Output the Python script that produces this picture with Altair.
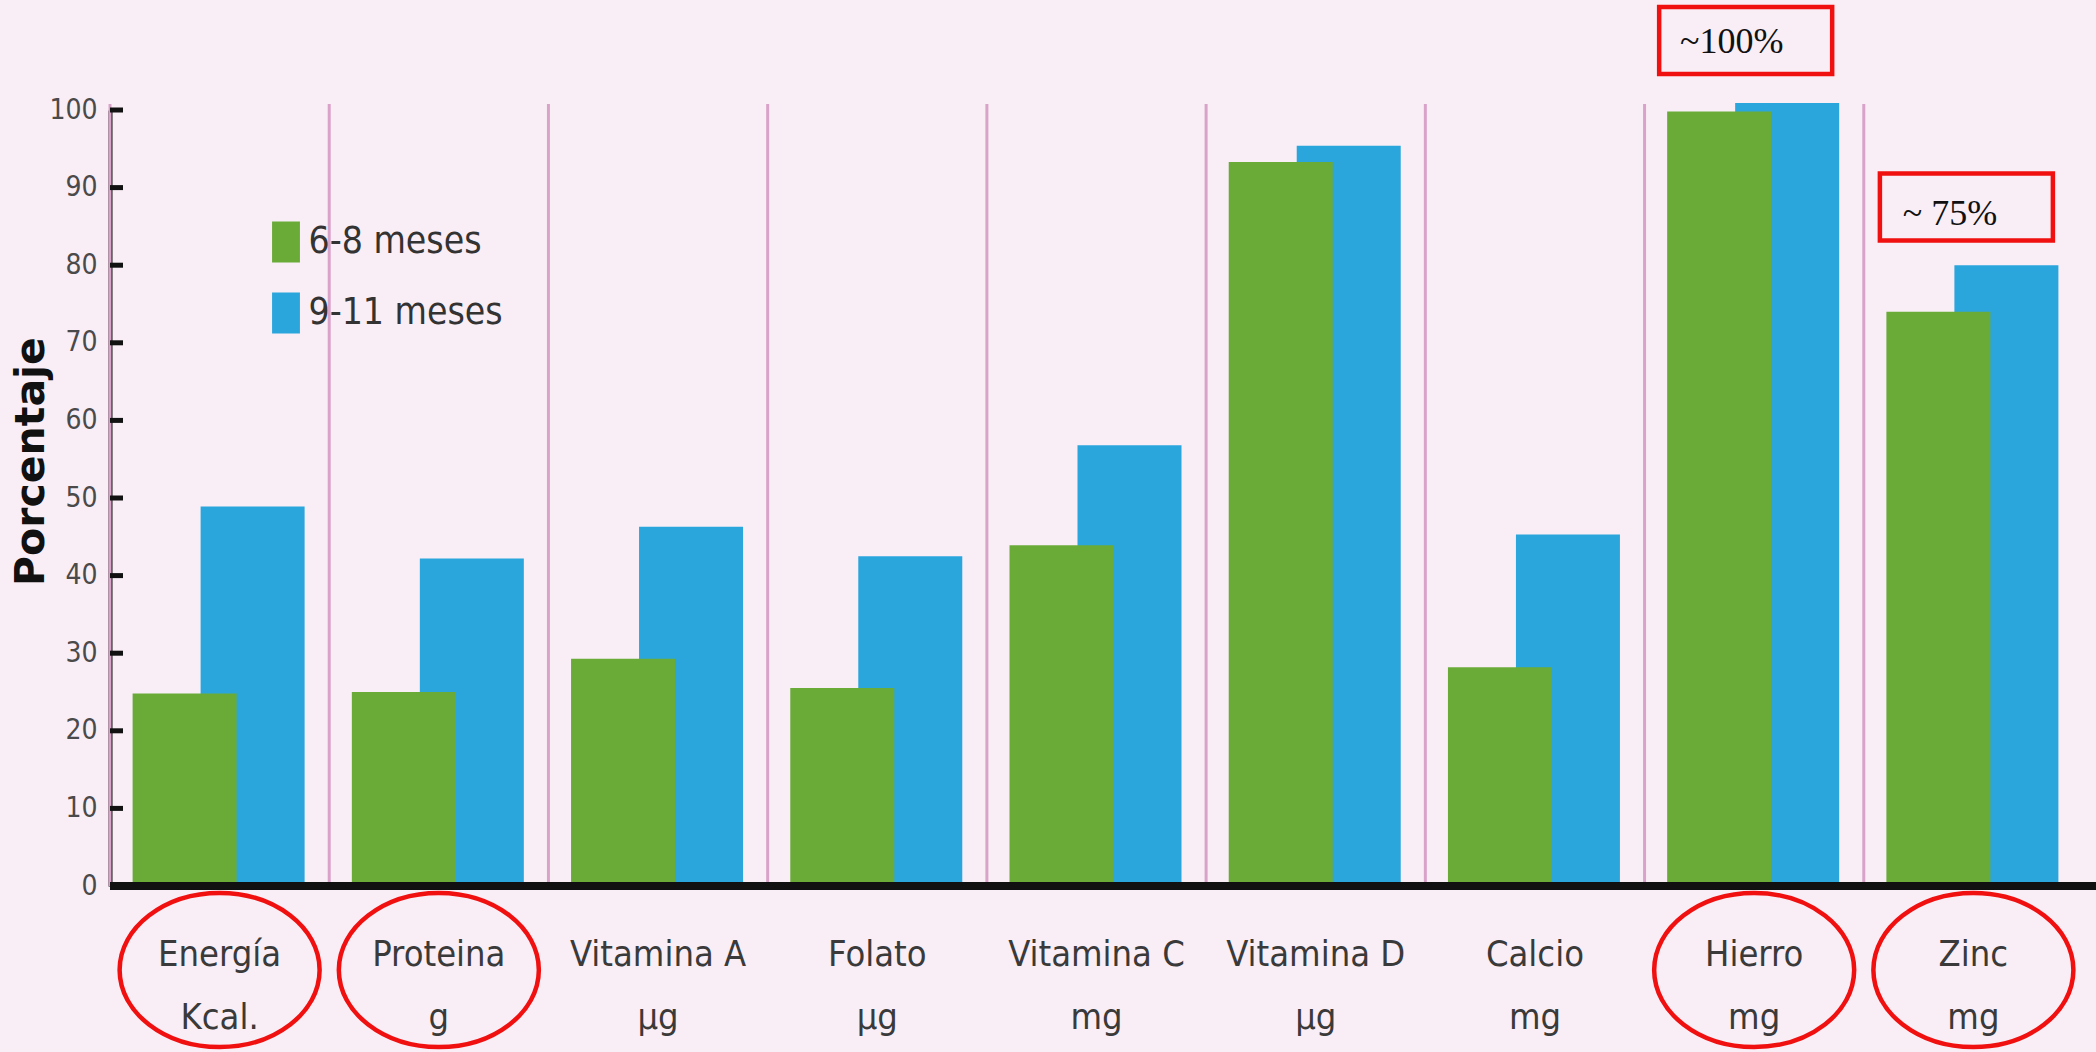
import altair as alt
import pandas as pd

# Nutrient categories and their units (second line of each axis label)
CATEGORIES = ["Energía", "Proteina", "Vitamina A", "Folato", "Vitamina C",
              "Vitamina D", "Calcio", "Hierro", "Zinc"]
UNITS = ["Kcal.", "g", "µg", "µg", "mg", "µg", "mg", "mg", "mg"]

# Percentage for each age group
SERIES = ["6-8 meses", "9-11 meses"]
PCT_6_8 = [24.8, 25.0, 29.3, 25.5, 43.9, 93.3, 28.2, 99.8, 74.0]
PCT_9_11 = [48.9, 42.2, 46.3, 42.5, 56.8, 95.4, 45.3, 100.9, 80.0]
COLORS = ["#6aab38", "#2ba6dc"]

Y_TICKS = [0, 10, 20, 30, 40, 50, 60, 70, 80, 90, 100]

# Highlighted nutrients and notes
CIRCLED = ["Energía", "Proteina", "Hierro", "Zinc"]
NOTE_CATS = ["Hierro", "Zinc"]
NOTE_TEXT = ["~100%", "~ 75%"]

NARROW = "DejaVu Sans Condensed, Liberation Sans Narrow, sans-serif"
SERIF = "Liberation Serif, Times New Roman, serif"
RED = "#f01010"

labels = [f"{c}\n{u}" for c, u in zip(CATEGORIES, UNITS)]
label_of = dict(zip(CATEGORIES, labels))

bars_df = pd.DataFrame({
    "cat": labels + labels,
    "serie": [SERIES[0]] * len(labels) + [SERIES[1]] * len(labels),
    "pct": PCT_6_8 + PCT_9_11,
})
cat_df = pd.DataFrame({"cat": labels})
tick_df = pd.DataFrame({"v": Y_TICKS})
ring_df = pd.DataFrame({"cat": [label_of[c] for c in CIRCLED]})
note_df = pd.DataFrame({"cat": [label_of[c] for c in NOTE_CATS], "txt": NOTE_TEXT})

x_axis = alt.Axis(
    title=None, ticks=False, grid=False, domainColor="#111111", domainWidth=7,
    labelExpr="split(datum.label, '\\n')", labelFont=NARROW, labelFontSize=36,
    labelColor="#3a3a3a", labelPadding=79, labelBaseline="alphabetic",
    labelLineHeight=63, labelAngle=0, labelLimit=0, labelOverlap=False,
)
x_scale = alt.Scale(paddingInner=0, paddingOuter=0)


def x_enc(**kw):
    return alt.X("cat:N", sort=labels, scale=x_scale, axis=x_axis, **kw)


y_axis = alt.Axis(
    title="Porcentaje", values=Y_TICKS, ticks=False, grid=False,
    domainColor="#111111", domainWidth=4,
    labelFont=NARROW, labelFontSize=28, labelColor="#4a4a4a", labelPadding=13,
    titleFont="DejaVu Sans", titleFontWeight="bold", titleFontSize=41,
    titleColor="#111111", titleX=-67, titleY=351, titleBaseline="alphabetic",
    titleAngle=270, titleAlign="center",
)
y_scale = alt.Scale(domain=[0, 100], nice=False, zero=True)

color_enc = alt.Color(
    "serie:N",
    scale=alt.Scale(domain=SERIES, range=COLORS),
    legend=alt.Legend(
        title=None, orient="none", legendX=155.5, legendY=111.5, padding=0,
        symbolType="M-0.68,-1H0.68V1H-0.68Z", symbolSize=1681,
        symbolStrokeWidth=0, symbolOpacity=1,
        labelFont=NARROW, labelFontSize=37, labelColor="#333333",
        labelOffset=2, rowPadding=30, labelLimit=0,
    ),
)

# Category separators at the start of each band
separators = alt.Chart(cat_df).mark_rule(color="#d9a3c9", strokeWidth=3).encode(
    x=x_enc(bandPosition=0), y=alt.value(-6), y2=alt.value(776)
)

blue = (
    alt.Chart(bars_df)
    .transform_filter(alt.datum.serie == SERIES[1])
    .mark_bar(width=104, xOffset=33, opacity=1)
    .encode(x=x_enc(), y=alt.Y("pct:Q", scale=y_scale, axis=y_axis), color=color_enc)
)
green = (
    alt.Chart(bars_df)
    .transform_filter(alt.datum.serie == SERIES[0])
    .mark_bar(width=104, xOffset=-35, opacity=1)
    .encode(x=x_enc(), y=alt.Y("pct:Q", scale=y_scale, axis=y_axis), color=color_enc)
)

# Inward tick marks on the y axis
y_ticks = alt.Chart(tick_df).mark_rule(color="#111111", strokeWidth=5).encode(
    y=alt.Y("v:Q", scale=y_scale, axis=y_axis), x=alt.value(0), x2=alt.value(13)
)

# Baseline continues to the right edge of the page
baseline = alt.Chart(cat_df).mark_rule(color="#111111", strokeWidth=7).encode(
    x=alt.value(0), x2=alt.value(1986), y=alt.value(776)
)

# Red ellipses around highlighted labels
ELLIPSE = "M-1,0A1,0.77 0 1,1 1,0A1,0.77 0 1,1 -1,0Z"
rings = alt.Chart(ring_df).mark_point(
    shape=ELLIPSE, size=40000, filled=False, color=RED, strokeWidth=4.5, opacity=1
).encode(x=x_enc(), y=alt.value(860))

# Boxed notes above Hierro and Zinc
BOX = "M-1,-0.387H1V0.387H-1Z"
box_hierro = (
    alt.Chart(note_df).transform_filter(alt.datum.txt == NOTE_TEXT[0])
    .mark_point(shape=BOX, size=29929, filled=False, color=RED, strokeWidth=4.5,
                opacity=1, xOffset=-8.5)
    .encode(x=x_enc(), y=alt.value(-69.5))
)
txt_hierro = (
    alt.Chart(note_df).transform_filter(alt.datum.txt == NOTE_TEXT[0])
    .mark_text(font=SERIF, fontSize=36, color="#111111", baseline="alphabetic",
               xOffset=-22.5)
    .encode(x=x_enc(), y=alt.value(-57), text="txt:N")
)
box_zinc = (
    alt.Chart(note_df).transform_filter(alt.datum.txt == NOTE_TEXT[1])
    .mark_point(shape=BOX, size=29929, filled=False, color=RED, strokeWidth=4.5,
                opacity=1, xOffset=-7)
    .encode(x=x_enc(), y=alt.value(97))
)
txt_zinc = (
    alt.Chart(note_df).transform_filter(alt.datum.txt == NOTE_TEXT[1])
    .mark_text(font=SERIF, fontSize=36, color="#111111", baseline="alphabetic",
               xOffset=-23.5)
    .encode(x=x_enc(), y=alt.value(115), text="txt:N")
)

chart = (
    alt.layer(separators, blue, green, y_ticks, baseline, rings,
              box_hierro, txt_hierro, box_zinc, txt_zinc)
    .properties(
        width=1973, height=776,
        autosize=alt.AutoSizeParams(type="none"),
        padding={"left": 110, "top": 110, "right": 13, "bottom": 166},
        background="#f9eef6",
    )
    .configure_view(strokeWidth=0)
)

chart.save("out.html", embed_options={"renderer": "svg", "actions": False})
